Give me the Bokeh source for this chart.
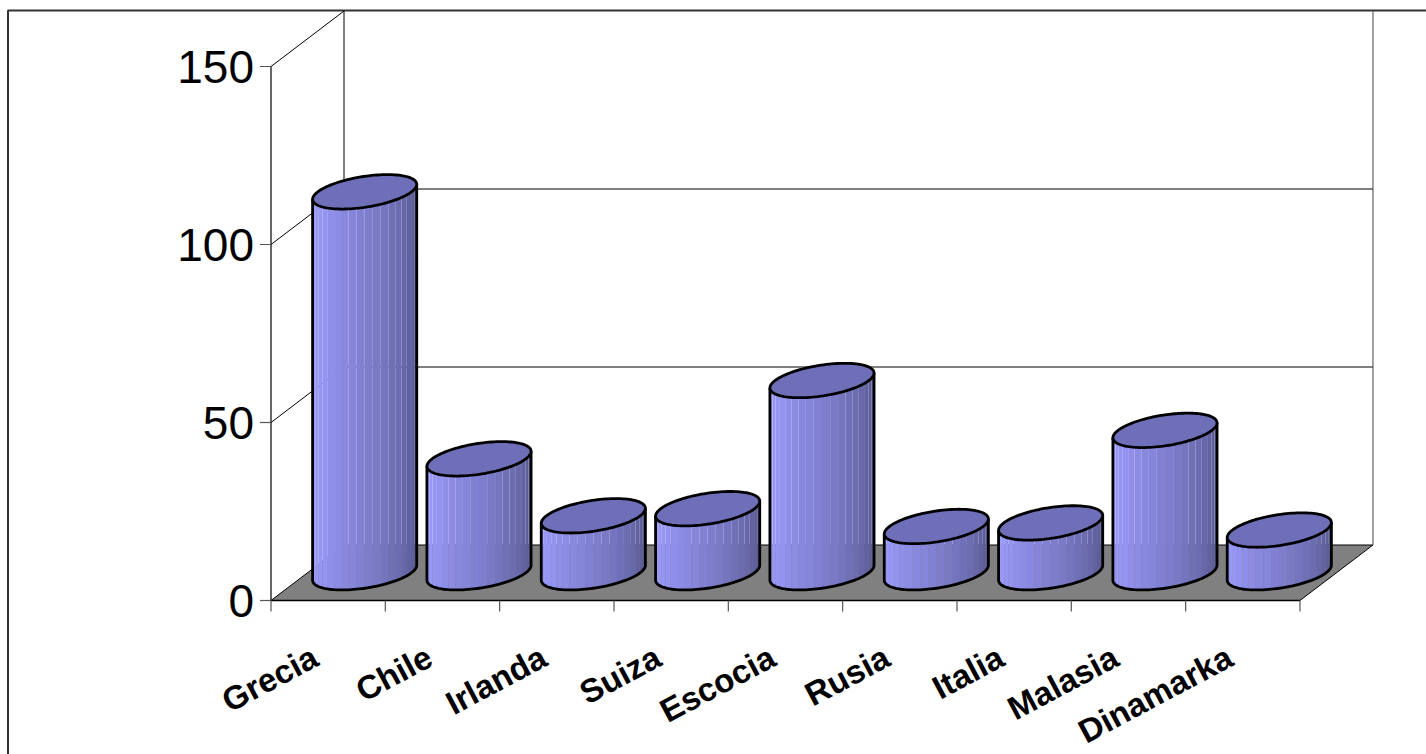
import numpy as np
from bokeh.core.properties import value
from bokeh.embed import file_html
from bokeh.models import Range1d
from bokeh.plotting import figure
from bokeh.resources import INLINE

# Chart data
countries = ["Grecia", "Chile", "Irlanda", "Suiza", "Escocia", "Rusia", "Italia", "Malasia", "Dinamarka"]
amounts = [107, 32, 16, 18, 54, 13, 14, 40, 12]
value_ticks = [0, 50, 100, 150]
value_tick_labels = ["0", "50", "100", "150"]

# Page and scale geometry, in pixels
WIDTH, HEIGHT = 1426, 754
ORIGIN_X, ORIGIN_Y = 270.5, 600.0
PX_PER_CATEGORY = 114.33
PX_PER_UNIT = 3.56

# The oblique depth vector of the floor, in data units per full depth
DEPTH_X = 73.0 / PX_PER_CATEGORY
DEPTH_Y = 55.5 / PX_PER_UNIT

# Cylinder shape: half width along x, radius as a share of the floor depth
RADIUS_X = 46.9 / PX_PER_CATEGORY
RADIUS_DEPTH = 0.31
STRIPS = 20

LIGHT = np.array([0x9c, 0x9c, 0xff])
DARK = np.array([0x54, 0x54, 0x8a])
CAP_COLOR = "#6f6fb9"
FLOOR_COLOR = "#808080"
GRID_COLOR = "#000000"
TICK_COLOR = "#555555"
FRAME_COLOR = "#333333"


def px_x(px):
    return (px - ORIGIN_X) / PX_PER_CATEGORY


def px_y(px):
    return (ORIGIN_Y - px) / PX_PER_UNIT


def project(cat, val, depth):
    """Oblique projection of a (category, value, depth) point to the plot's data space."""
    return cat + depth * DEPTH_X, val + depth * DEPTH_Y


def circle_point(center, level, t):
    """Point at angle t on the horizontal circle of a cylinder at a given value."""
    return project(center + RADIUS_X * np.cos(t), level, 0.5 + RADIUS_DEPTH * np.sin(t))


p = figure(
    width=WIDTH,
    height=HEIGHT,
    x_range=Range1d(px_x(0), px_x(WIDTH)),
    y_range=Range1d(px_y(HEIGHT), px_y(0)),
    output_backend="svg",
    toolbar_location=None,
    min_border=0,
    outline_line_color=None,
    background_fill_color="white",
)
p.axis.visible = False
p.grid.visible = False

n = len(countries)

# Outer frame: only the left and top sides fall inside the page
p.line([px_x(7.5), px_x(7.5), px_x(WIDTH)], [px_y(HEIGHT), px_y(10), px_y(10)],
       line_color=FRAME_COLOR, line_width=2)

# Floor
floor_corners = [project(0, 0, 0), project(n, 0, 0), project(n, 0, 1), project(0, 0, 1)]
p.patch([c[0] for c in floor_corners], [c[1] for c in floor_corners],
        fill_color=FLOOR_COLOR, line_color=None)

# Side wall, back wall and gridlines
top = value_ticks[-1]
for v in value_ticks:
    x0, y0 = project(0, v, 0)
    x1, y1 = project(0, v, 1)
    x2, y2 = project(n, v, 1)
    p.line([x0, x1], [y0, y1], line_color=GRID_COLOR, line_width=1)
    if v != top:
        p.line([x1, x2], [y1, y2], line_color=GRID_COLOR, line_width=1)
xa, ya = project(0, 0, 1)
xb, yb = project(0, top, 1)
p.line([xa, xb], [ya, yb], line_color=GRID_COLOR, line_width=1)
xa, ya = project(n, 0, 1)
xb, yb = project(n, top, 1)
p.line([xa, xb], [ya, yb], line_color="#444444", line_width=1)

# Front floor edge, right floor edge and the value axis
p.line([0, n], [0, 0], line_color="#000000", line_width=1.5)
xa, ya = project(n, 0, 0)
xb, yb = project(n, 0, 1)
p.line([xa, xb], [ya, yb], line_color=GRID_COLOR, line_width=1)
p.line([0, 0], [0, top], line_color=GRID_COLOR, line_width=1.2)

# Tick marks
tick_x = 11 / PX_PER_CATEGORY
tick_y = 11 / PX_PER_UNIT
p.segment([-tick_x] * len(value_ticks), value_ticks, [0] * len(value_ticks), value_ticks,
          line_color=TICK_COLOR, line_width=1.2)
cat_ticks = list(range(n + 1))
p.segment(cat_ticks, [0] * (n + 1), cat_ticks, [-tick_y] * (n + 1),
          line_color=TICK_COLOR, line_width=1.2)

# Cylinders, one shaded strip at a time from the left silhouette round the front
phi = np.arctan2(RADIUS_DEPTH * DEPTH_X, RADIUS_X)
t_left = np.pi + phi
t_right = 2 * np.pi + phi
edges = np.linspace(t_left, t_right, STRIPS + 1)
strip_colors = []
for i in range(STRIPS):
    f = (i / (STRIPS - 1)) ** 1.3
    c = LIGHT + (DARK - LIGHT) * f
    strip_colors.append("#%02x%02x%02x" % tuple(int(round(k)) for k in c))

circle = np.linspace(0, 2 * np.pi, 121)
front = np.linspace(t_left, t_right, 61)

for i, val in enumerate(amounts):
    center = i + 0.5
    xs, ys = [], []
    for a, b in zip(edges[:-1], edges[1:]):
        bx0, by0 = circle_point(center, 0, a)
        bx1, by1 = circle_point(center, 0, b)
        tx0, ty0 = circle_point(center, val, a)
        tx1, ty1 = circle_point(center, val, b)
        xs.append([bx0, bx1, tx1, tx0])
        ys.append([by0, by1, ty1, ty0])
    p.patches(xs, ys, fill_color=strip_colors, line_color=None)

    fx, fy = circle_point(center, 0, front)
    tlx, tly = circle_point(center, val, t_left)
    trx, try_ = circle_point(center, val, t_right)
    p.line([tlx, *fx, trx], [tly, *fy, try_], line_color="black", line_width=2.8, line_join="round")

    cx, cy = circle_point(center, val, circle)
    p.patch(cx, cy, fill_color=CAP_COLOR, line_color="black", line_width=2.8)

# Value labels
p.text([-tick_x - 6 / PX_PER_CATEGORY] * len(value_ticks), value_ticks, text=value_tick_labels,
       text_font=value("Liberation Sans"), text_font_size="46px",
       text_align="right", text_baseline="middle", text_color="black")

# Category labels
p.text([i + 0.5 for i in range(n)], [0] * n, text=countries,
       x_offset=-13, y_offset=54,
       angle=28, angle_units="deg",
       text_font=value("Liberation Sans"), text_font_style="bold", text_font_size="33px",
       text_align="right", text_baseline="middle", text_color="black")

open("out.html", "w").write(file_html(p, INLINE))
